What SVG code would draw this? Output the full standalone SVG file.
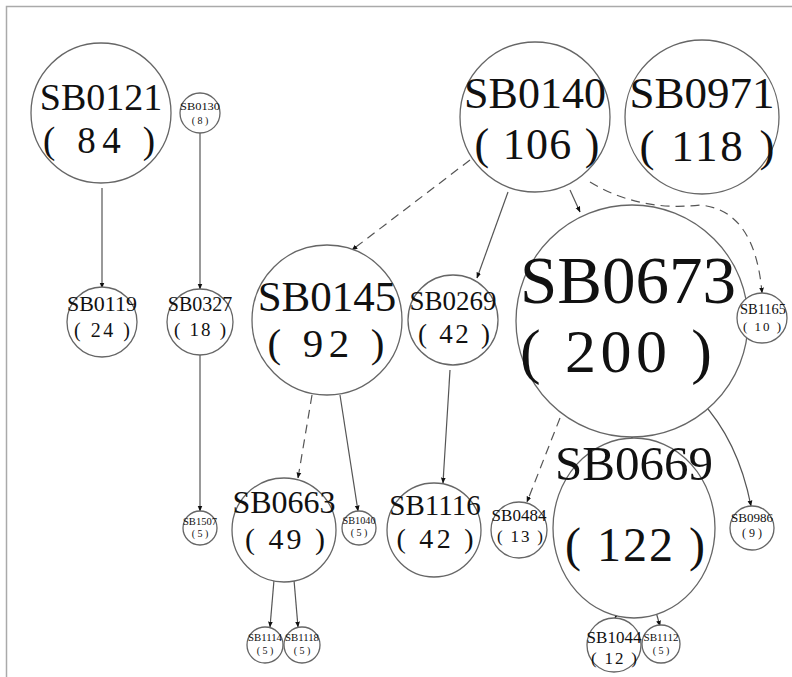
<svg xmlns="http://www.w3.org/2000/svg" width="792" height="677" viewBox="0 0 792 677">
<style>
.n{fill:#fff;stroke:#666;stroke-width:1.3}
.t{font-family:"Liberation Serif","Times New Roman",serif;fill:#111;text-anchor:middle}
.e{fill:none;stroke:#555;stroke-width:1.2}
.d{stroke-dasharray:9 6}
</style>
<defs>
<marker id="a" viewBox="0 0 10 10" refX="9" refY="5" markerWidth="5" markerHeight="5" orient="auto"><path d="M0,1 L10,5 L0,9 z" fill="#111"/></marker>
</defs>
<rect x="0" y="0" width="792" height="677" fill="#fff"/>
<path d="M6.5,677 V6.5 H792" fill="none" stroke="#aaa" stroke-width="1.5"/>
<g id="edges">
<path class="e" d="M102,188 L102,288" marker-end="url(#a)"/>
<path class="e" d="M200,132 L200,289" marker-end="url(#a)"/>
<path class="e" d="M200,355 L200,511" marker-end="url(#a)"/>
<path class="e d" d="M470,160 L352,250" marker-end="url(#a)"/>
<path class="e" d="M508,192 L477,278" marker-end="url(#a)"/>
<path class="e" d="M570,190 L580,212" marker-end="url(#a)"/>
<path class="e d" d="M590,182 Q640,212 700,205 Q755,210 762,293" marker-end="url(#a)"/>
<path class="e d" d="M312,395 L298,478" marker-end="url(#a)"/>
<path class="e" d="M340,395 L358,511" marker-end="url(#a)"/>
<path class="e" d="M450,370 L443,483" marker-end="url(#a)"/>
<path class="e d" d="M560,418 L527,502" marker-end="url(#a)"/>
<path class="e" d="M632,432 L632,439" marker-end="url(#a)"/>
<path class="e" d="M700,400 Q738,440 751,506" marker-end="url(#a)"/>
<path class="e" d="M274,580 L270,627" marker-end="url(#a)"/>
<path class="e" d="M294,580 L298,627" marker-end="url(#a)"/>
<path class="e" d="M617,614 L615,618" marker-end="url(#a)"/>
<path class="e" d="M656,612 L660,626" marker-end="url(#a)"/>
</g>
<g id="SB0121"><circle class="n" cx="101" cy="113" r="70"/><text class="t" x="101" y="110" font-size="38">SB0121</text><text class="t" x="99" y="153" font-size="37" textLength="112" lengthAdjust="spacing">( 84 )</text></g>
<g id="SB0130"><circle class="n" cx="200" cy="113" r="20"/><text class="t" x="200" y="110" font-size="11" textLength="40" lengthAdjust="spacingAndGlyphs">SB0130</text><text class="t" x="200" y="124" font-size="10">( 8 )</text></g>
<g id="SB0119"><circle class="n" cx="102" cy="322" r="35"/><text class="t" x="102" y="311" font-size="22">SB0119</text><text class="t" x="102" y="337" font-size="20" textLength="56" lengthAdjust="spacing">( 24 )</text></g>
<g id="SB0327"><circle class="n" cx="200" cy="322" r="33"/><text class="t" x="200" y="311" font-size="20">SB0327</text><text class="t" x="200" y="336" font-size="19" textLength="52" lengthAdjust="spacing">( 18 )</text></g>
<g id="SB1507"><circle class="n" cx="200" cy="528" r="17"/><text class="t" x="200" y="525" font-size="10" textLength="34" lengthAdjust="spacingAndGlyphs">SB1507</text><text class="t" x="200" y="537" font-size="10">( 5 )</text></g>
<g id="SB0140"><circle class="n" cx="535" cy="117" r="75"/><text class="t" x="535" y="108" font-size="44">SB0140</text><text class="t" x="537" y="159" font-size="44" textLength="125" lengthAdjust="spacing">( 106 )</text></g>
<g id="SB0971"><circle class="n" cx="702" cy="117" r="77"/><text class="t" x="702" y="108" font-size="45">SB0971</text><text class="t" x="707" y="161" font-size="45" textLength="135" lengthAdjust="spacing">( 118 )</text></g>
<g id="SB0145"><circle class="n" cx="327" cy="320" r="75"/><text class="t" x="327" y="311" font-size="43">SB0145</text><text class="t" x="326" y="357" font-size="41" textLength="117" lengthAdjust="spacing">( 92 )</text></g>
<g id="SB0269"><circle class="n" cx="453" cy="320" r="45"/><text class="t" x="453" y="310" font-size="27">SB0269</text><text class="t" x="454" y="343" font-size="27" textLength="72" lengthAdjust="spacing">( 42 )</text></g>
<g id="SB0673"><circle class="n" cx="632" cy="321" r="116"/><text class="t" x="628" y="303" font-size="67">SB0673</text><text class="t" x="616" y="372" font-size="62" textLength="192" lengthAdjust="spacing">( 200 )</text></g>
<g id="SB1165"><circle class="n" cx="762" cy="318" r="25"/><text class="t" x="763" y="314" font-size="14" textLength="46" lengthAdjust="spacingAndGlyphs">SB1165</text><text class="t" x="762" y="331" font-size="13" textLength="38" lengthAdjust="spacing">( 10 )</text></g>
<g id="SB0663"><circle class="n" cx="284" cy="530" r="52"/><text class="t" x="284" y="513" font-size="32">SB0663</text><text class="t" x="285" y="549" font-size="30" textLength="80" lengthAdjust="spacing">( 49 )</text></g>
<g id="SB1040"><circle class="n" cx="359" cy="528" r="17"/><text class="t" x="359" y="524" font-size="10" textLength="33" lengthAdjust="spacingAndGlyphs">SB1040</text><text class="t" x="359" y="536" font-size="10">( 5 )</text></g>
<g id="SB1116"><circle class="n" cx="434" cy="530" r="47"/><text class="t" x="435" y="515" font-size="29">SB1116</text><text class="t" x="435" y="548" font-size="28" textLength="77" lengthAdjust="spacing">( 42 )</text></g>
<g id="SB0484"><circle class="n" cx="519" cy="530" r="28"/><text class="t" x="519" y="521" font-size="17">SB0484</text><text class="t" x="520" y="542" font-size="17" textLength="46" lengthAdjust="spacing">( 13 )</text></g>
<g id="SB0669"><ellipse class="n" cx="634" cy="528" rx="81" ry="90"/><text class="t" x="634" y="480" font-size="49">SB0669</text><text class="t" x="635" y="561" font-size="48" textLength="140" lengthAdjust="spacing">( 122 )</text></g>
<g id="SB0986"><circle class="n" cx="752" cy="528" r="22"/><text class="t" x="752" y="522" font-size="12" textLength="42" lengthAdjust="spacingAndGlyphs">SB0986</text><text class="t" x="752" y="537" font-size="12">( 9 )</text></g>
<g id="SB1114"><circle class="n" cx="265" cy="645" r="18"/><text class="t" x="265" y="641" font-size="10" textLength="34" lengthAdjust="spacingAndGlyphs">SB1114</text><text class="t" x="265" y="654" font-size="10">( 5 )</text></g>
<g id="SB1118"><circle class="n" cx="302" cy="645" r="18"/><text class="t" x="302" y="641" font-size="10" textLength="34" lengthAdjust="spacingAndGlyphs">SB1118</text><text class="t" x="302" y="654" font-size="10">( 5 )</text></g>
<g id="SB1044"><circle class="n" cx="614" cy="645" r="27"/><text class="t" x="614" y="643" font-size="17">SB1044</text><text class="t" x="614" y="664" font-size="17" textLength="46" lengthAdjust="spacing">( 12 )</text></g>
<g id="SB1112"><circle class="n" cx="661" cy="644" r="19"/><text class="t" x="661" y="641" font-size="10" textLength="35" lengthAdjust="spacingAndGlyphs">SB1112</text><text class="t" x="661" y="654" font-size="10">( 5 )</text></g>
</svg>
